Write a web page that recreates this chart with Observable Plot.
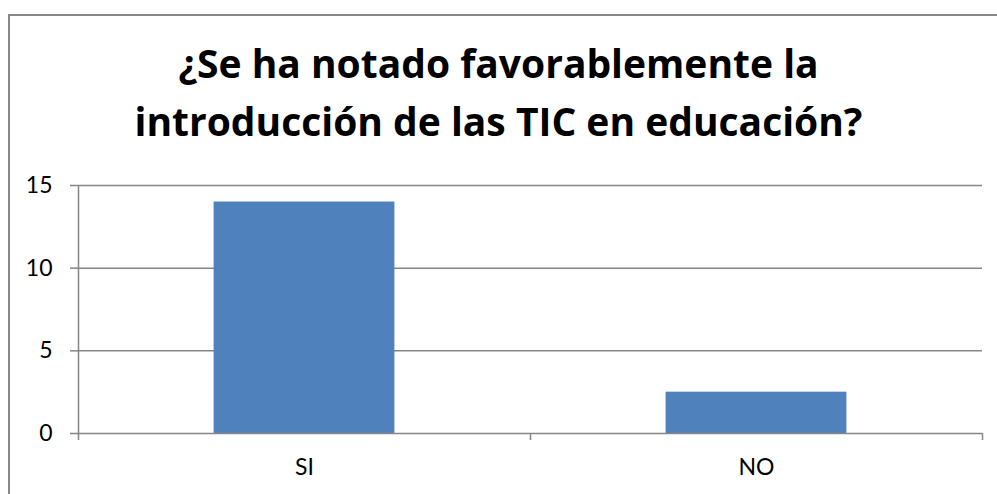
<!DOCTYPE html>
<html>
<head>
<meta charset="utf-8">
<script src="https://cdn.jsdelivr.net/npm/d3@7"></script>
<script src="https://cdn.jsdelivr.net/npm/@observablehq/plot@0.6"></script>
<style>
  html, body { margin: 0; padding: 0; background: #fff; }
  #wrap { position: relative; width: 997px; height: 494px; overflow: hidden; font-family: Lato, "Open Sans", sans-serif; }
  #frame { position: absolute; left: 8px; top: 14px; width: 1100px; height: 600px; border: 2px solid #888; box-sizing: border-box; }
  #title { position: absolute; left: 0; top: 34px; width: 997px; text-align: center; font-family: "Open Sans", sans-serif; font-weight: bold; font-size: 39px; line-height: 58px; color: #000; }
  #chart { position: absolute; left: 0; top: 170px; }
</style>
</head>
<body>
<div id="wrap">
  <div id="frame"></div>
  <div id="title">¿Se ha notado favorablemente la<br>introducción de las TIC en educación?</div>
  <div id="chart"></div>
</div>
<script>
const categories = ["SI", "NO"];
const values = [14, 2.5];
const yTicks = [0, 5, 10, 15];

const data = categories.map((c, i) => ({category: c, index: i, value: values[i]}));
const n = categories.length;

const plot = Plot.plot({
  width: 997,
  height: 324,
  marginLeft: 78,
  marginRight: 15,
  marginTop: 15,
  marginBottom: 61,
  style: {fontFamily: "Lato, 'Open Sans', sans-serif", fontSize: "23px", color: "#000", background: "transparent"},
  x: {type: "linear", domain: [0, n]},
  y: {domain: [0, 15]},
  marks: [
    Plot.ruleY(yTicks.filter(t => t > 0), {stroke: "#868686", strokeWidth: 1.5}),
    Plot.rectY(data, {x1: d => d.index + 0.3, x2: d => d.index + 0.7, y: "value", fill: "#4F81BD"}),
    Plot.ruleY([0], {stroke: "#868686", strokeWidth: 1.5}),
    Plot.ruleX([0], {stroke: "#868686", strokeWidth: 1.5}),
    Plot.axisY({ticks: yTicks, tickSize: 8, tickPadding: 18, stroke: "#868686", strokeWidth: 1.5, label: null, fontSize: 23, fill: "#000"}),
    Plot.axisX({ticks: d3.range(n + 1), tickSize: 7, tickFormat: () => "", stroke: "#868686", strokeWidth: 1.5, label: null}),
    Plot.text(data, {x: d => d.index + 0.5, y: 0, text: "category", dy: 34, fontSize: 23, fill: "#000"})
  ]
});
document.getElementById("chart").appendChild(plot);
</script>
</body>
</html>
